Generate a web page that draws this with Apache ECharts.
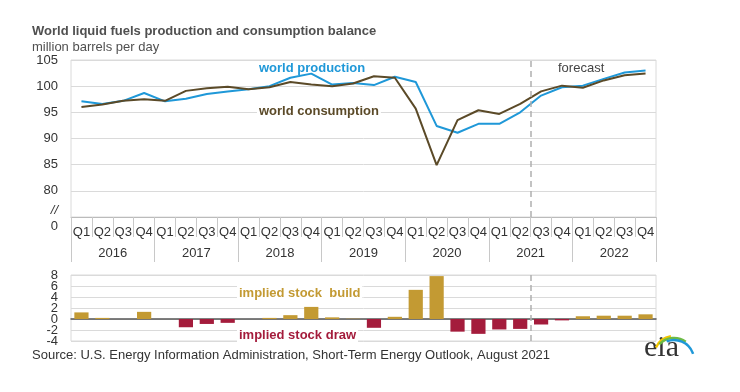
<!DOCTYPE html>
<html>
<head>
<meta charset="utf-8">
<script src="https://cdn.jsdelivr.net/npm/echarts@6/dist/echarts.min.js"></script>
<style>
html,body{margin:0;padding:0;background:#fff;}
#chart{width:740px;height:392px;}
</style>
</head>
<body>
<div id="chart"></div>
<script>
const quarters = ['Q1','Q2','Q3','Q4','Q1','Q2','Q3','Q4','Q1','Q2','Q3','Q4','Q1','Q2','Q3','Q4','Q1','Q2','Q3','Q4','Q1','Q2','Q3','Q4','Q1','Q2','Q3','Q4'];
const years = ['2016','2017','2018','2019','2020','2021','2022'];
const production = [97.1,96.6,97.2,98.7, 97.1,97.6,98.5,99.0, 99.4,100.0,101.6,102.4, 100.3,100.6,100.2,101.8, 100.8,92.4,91.1,92.8, 92.8,95.0,98.2,99.8, 100.1,101.4,102.6,103.0];
const consumption = [96.0,96.5,97.2,97.5, 97.2,99.1,99.6,99.9, 99.4,99.8,100.8,100.3, 100.0,100.5,101.9,101.6, 95.7,84.9,93.5,95.4, 94.7,96.6,99.0,100.1, 99.7,101.1,102.1,102.4];
const stockChange = [1.2,0.2,0.0,1.3, 0.0,-1.5,-0.9,-0.7, 0.0,0.2,0.7,2.2, 0.3,0.05,-1.6,0.4, 5.3,7.8,-2.3,-2.7, -1.9,-1.8,-1.0,-0.25, 0.5,0.6,0.6,0.85];
const forecastStart = 22; // index of 2021 Q3
const topTicks = [75,80,85,90,95,100,105];
const bottomTicks = [-4,-2,0,2,4,6,8];

const FONT = '"Liberation Sans", Arial, sans-serif';
const BLUE = '#1f98d8';
const BROWN = '#5b4a28';
const GOLD = '#c39a33';
const RED = '#a41c3c';
const GRID = '#dadada';

const chart = echarts.init(document.getElementById('chart'), null, {renderer:'canvas'});

const barData = stockChange.map(v => ({value: v, itemStyle: {color: v >= 0 ? GOLD : RED}}));

const staticGraphics = [
  {type: 'text', left: 32, top: 25, style: {text: 'World liquid fuels production and consumption balance', font: 'bold 13px ' + FONT, fill: '#505050'}},
  {type: 'text', left: 32, top: 41, style: {text: 'million barrels per day', font: '13px ' + FONT, fill: '#505050'}},
  {type: 'text', right: 682, top: 204, style: {text: '//', font: 'italic 13px ' + FONT, fill: '#333', textAlign: 'right'}},
  {type: 'text', right: 682, top: 220, style: {text: '0', font: '13px ' + FONT, fill: '#333', textAlign: 'right'}},
  {type: 'text', left: 259, top: 62, style: {text: 'world production', font: 'bold 13px ' + FONT, fill: BLUE}},
  {type: 'text', left: 257, top: 103, z: 10, style: {text: 'world consumption', font: 'bold 13px ' + FONT, fill: BROWN, backgroundColor: '#fff', padding: [2,2]}},
  {type: 'text', left: 558, top: 62, style: {text: 'forecast', font: '13px ' + FONT, fill: '#444'}},
  {type: 'text', left: 237, top: 285, z: 10, style: {text: 'implied stock  build', font: 'bold 13px ' + FONT, fill: GOLD, backgroundColor: '#fff', padding: [2,2]}},
  {type: 'text', left: 237, top: 327, z: 10, style: {text: 'implied stock draw', font: 'bold 13px ' + FONT, fill: RED, backgroundColor: '#fff', padding: [2,2]}},
  {type: 'text', left: 32, top: 349, style: {text: 'Source: U.S. Energy Information Administration, Short-Term Energy Outlook, August 2021', font: '13px ' + FONT, fill: '#333'}},
  {type: 'text', left: 644, top: 333, style: {text: 'eia', font: '30px "Liberation Serif", "DejaVu Serif", serif', fill: '#333'}},
  {type: 'arc', shape: {cx: 674, cy: 356, r: 20, startAngle: -Math.PI*0.86, endAngle: -Math.PI*0.55}, style: {stroke: '#f2c500', lineWidth: 2.5, fill: null}},
  {type: 'arc', shape: {cx: 674, cy: 358, r: 20, startAngle: -Math.PI*0.76, endAngle: -Math.PI*0.3}, style: {stroke: '#6dbb45', lineWidth: 2.5, fill: null}},
  {type: 'arc', shape: {cx: 674, cy: 360, r: 20, startAngle: -Math.PI*0.62, endAngle: -Math.PI*0.1}, style: {stroke: '#1f98d8', lineWidth: 2.5, fill: null}}
];

const option = {
  animation: false,
  textStyle: {fontFamily: FONT},
  grid: [
    {left: 71, right: 84, top: 60, height: 157, show: true, borderColor: GRID, borderWidth: 1},
    {left: 71, right: 84, top: 275, height: 66, show: true, borderColor: GRID, borderWidth: 1}
  ],
  xAxis: [
    {type: 'category', gridIndex: 0, data: quarters, boundaryGap: true,
     axisLine: {lineStyle: {color: '#bbbbbb'}},
     axisTick: {show: true, interval: 0, length: 20, lineStyle: {color: '#c8c8c8'}},
     axisLabel: {interval: 0, margin: 9, fontSize: 13, color: '#333', fontFamily: FONT}},
    {type: 'category', gridIndex: 0, data: years, position: 'bottom', boundaryGap: true,
     axisLine: {show: false},
     axisTick: {show: true, interval: 0, length: 45, lineStyle: {color: '#c8c8c8'}},
     axisLabel: {interval: 0, margin: 30, fontSize: 13, color: '#333', fontFamily: FONT}},
    {type: 'category', gridIndex: 1, data: quarters, boundaryGap: true,
     axisLine: {onZero: true, lineStyle: {color: '#555', width: 1.5}},
     axisTick: {show: false}, axisLabel: {show: false}},
    {type: 'value', gridIndex: 0, min: 0, max: 28, show: false},
    {type: 'value', gridIndex: 1, min: 0, max: 28, show: false}
  ],
  yAxis: [
    {type: 'value', gridIndex: 0, min: topTicks[0], max: topTicks[topTicks.length-1], interval: 5,
     axisLine: {show: false}, axisTick: {show: false},
     splitLine: {lineStyle: {color: GRID}},
     axisLabel: {margin: 13, fontSize: 13, color: '#333', fontFamily: FONT, showMinLabel: true, showMaxLabel: true,
       formatter: v => v === topTicks[0] ? '' : String(v)}},
    {type: 'value', gridIndex: 1, min: bottomTicks[0], max: bottomTicks[bottomTicks.length-1], interval: 2,
     axisLine: {show: false}, axisTick: {show: false},
     splitLine: {lineStyle: {color: GRID}},
     axisLabel: {show: false}}
  ],
  series: [
    {name: 'world production', type: 'line', xAxisIndex: 0, yAxisIndex: 0, data: production,
     showSymbol: false, symbol: 'none', lineStyle: {color: BLUE, width: 2}, z: 3},
    {name: 'world consumption', type: 'line', xAxisIndex: 0, yAxisIndex: 0, data: consumption,
     showSymbol: false, symbol: 'none', lineStyle: {color: BROWN, width: 2}, z: 4},
    {name: 'stock change', type: 'bar', xAxisIndex: 2, yAxisIndex: 1, data: barData, barWidth: '68%', z: 2},
    {type: 'line', xAxisIndex: 3, yAxisIndex: 0, data: [], silent: true,
     markLine: {silent: true, symbol: ['none','none'], label: {show: false},
       lineStyle: {color: '#b0b0b0', type: [6,4], width: 1.5}, data: [{xAxis: forecastStart}]}},
    {type: 'line', xAxisIndex: 4, yAxisIndex: 1, data: [], silent: true,
     markLine: {silent: true, symbol: ['none','none'], label: {show: false},
       lineStyle: {color: '#b0b0b0', type: [6,4], width: 1.5}, data: [{xAxis: forecastStart}]}}
  ],
  graphic: staticGraphics
};
chart.setOption(option);

// lower-axis tick labels placed at positions given by the library's own scale
const lowerLabels = bottomTicks.map(v => {
  const y = chart.convertToPixel({yAxisIndex: 1}, v);
  return {type: 'text', x: 58, y: y,
    style: {text: String(v), font: '13px ' + FONT, fill: '#333', textAlign: 'right', textVerticalAlign: 'middle'}};
});
chart.setOption({graphic: staticGraphics.concat(lowerLabels)}, {replaceMerge: ['graphic']});
</script>
</body>
</html>
